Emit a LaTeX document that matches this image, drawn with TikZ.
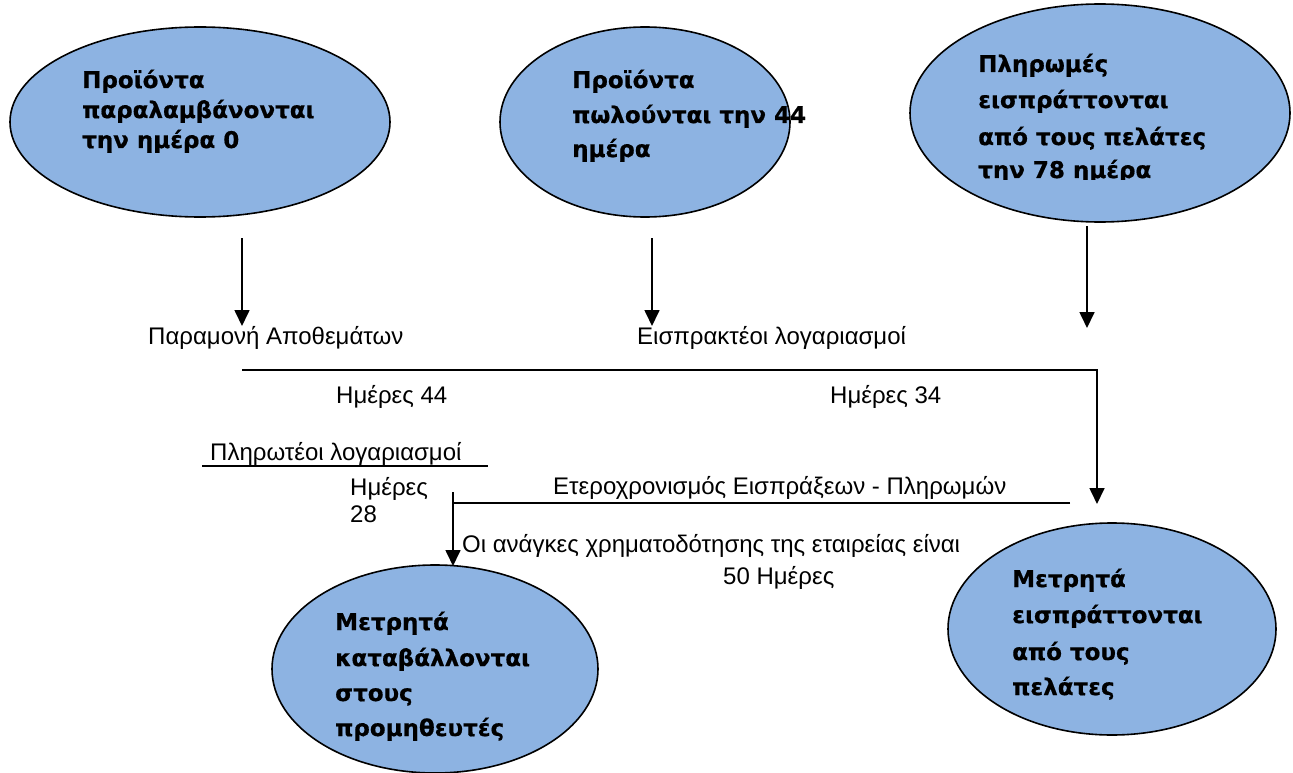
\documentclass[tikz,border=0pt]{standalone}
\usepackage{fontspec}
\setmainfont{Liberation Sans}
\newfontfamily\ellfont{DejaVu Sans}[BoldFeatures={FakeBold=0.6}]
\usetikzlibrary{shapes.geometric,arrows.meta}
\definecolor{bubblefill}{RGB}{141,179,226}
\tikzset{
  bubble/.style={ellipse,draw=black,line width=1.6pt,fill=bubblefill,inner sep=0pt},
  bline/.style={anchor=base west,inner sep=0pt,font=\ellfont\bfseries\fontsize{23}{27}\selectfont},
  lbl/.style={anchor=base west,inner sep=0pt,font=\fontsize{24}{28}\selectfont},
  flow/.style={line width=1.7pt,-{Triangle[length=16pt,width=15pt]}},
  rulel/.style={line width=1.5pt}
}
\begin{document}
\begin{tikzpicture}[x=1pt,y=-1pt]
\useasboundingbox (0,0) rectangle (1293,773);

% ellipses
\node[bubble,minimum width=380pt,minimum height=190pt] (e1) at (200,122) {};
\node[bubble,minimum width=290pt,minimum height=190pt] (e2) at (645,122) {};
\node[bubble,minimum width=380pt,minimum height=218pt] (e3) at (1100,113) {};
\node[bubble,minimum width=326pt,minimum height=208pt] (e4) at (435,669) {};
\node[bubble,minimum width=328pt,minimum height=212pt] (e5) at (1112,629) {};

% text inside the ellipses
\node[bline] (e1a) at (82,88) {Προϊόντα};
\node[bline] (e1b) at (82,118) {παραλαμβάνονται};
\node[bline] (e1c) at (82,148) {την ημέρα 0};

\node[bline] (e2a) at (572,88) {Προϊόντα};
\node[bline] (e2b) at (572,123) {πωλούνται την 44};
\node[bline] (e2c) at (572,157) {ημέρα};

\node[bline] (e3a) at (978,72) {Πληρωμές};
\node[bline] (e3b) at (978,108) {εισπράττονται};
\node[bline] (e3c) at (978,145) {από τους πελάτες};
\begin{scope}
  \clip (900,0) rectangle (1293,179);
  \node[bline] (e3d) at (978,178) {την 78 ημέρα};
\end{scope}

\node[bline] (e4a) at (335,630) {Μετρητά};
\node[bline] (e4b) at (335,666) {καταβάλλονται};
\node[bline] (e4c) at (335,701) {στους};
\node[bline] (e4d) at (335,736) {προμηθευτές};

\node[bline] (e5a) at (1012,587) {Μετρητά};
\node[bline] (e5b) at (1012,623) {εισπράττονται};
\node[bline] (e5c) at (1012,660) {από τους};
\node[bline] (e5d) at (1012,695) {πελάτες};

% labels
\node[lbl] (inv) at (148,344) {Παραμονή Αποθεμάτων};
\node[lbl] (rec) at (637,344) {Εισπρακτέοι λογαριασμοί};
\node[lbl] (d44) at (336,403) {Ημέρες 44};
\node[lbl] (d34) at (830,403) {Ημέρες 34};
\node[lbl] (pay) at (210,460) {Πληρωτέοι λογαριασμοί};
\node[lbl] (d28a) at (350,495) {Ημέρες};
\node[lbl] (d28b) at (350,522) {28};
\node[lbl] (gap) at (553,494) {Ετεροχρονισμός Εισπράξεων - Πληρωμών};
\node[lbl] (need) at (462,552) {Οι ανάγκες χρηματοδότησης της εταιρείας είναι};
\node[lbl] (d50) at (723,584) {50 Ημέρες};

% connector end points
\coordinate (a1s) at (242,238);
\coordinate (a1e) at (242,326);
\coordinate (a2s) at (652,238);
\coordinate (a2e) at (652,326);
\coordinate (a3s) at (1087,226);
\coordinate (a3e) at (1087,328);
\coordinate (top0) at (242,370);
\coordinate (top1) at (1097,370);
\coordinate (top2) at (1097,504);
\coordinate (pay0) at (202,466);
\coordinate (pay1) at (488,466);
\coordinate (gap0) at (1070,503);
\coordinate (gap1) at (453,503);
\coordinate (dn0) at (453,492);
\coordinate (dn1) at (453,566);

% connectors
\draw[flow] (a1s) -- (a1e);
\draw[flow] (a2s) -- (a2e);
\draw[flow] (a3s) -- (a3e);
\draw[flow] (top0) -- (top1) -- (top2);
\draw[rulel] (pay0) -- (pay1);
\draw[rulel] (gap0) -- (gap1);
\draw[flow] (dn0) -- (dn1);
\end{tikzpicture}
\end{document}
